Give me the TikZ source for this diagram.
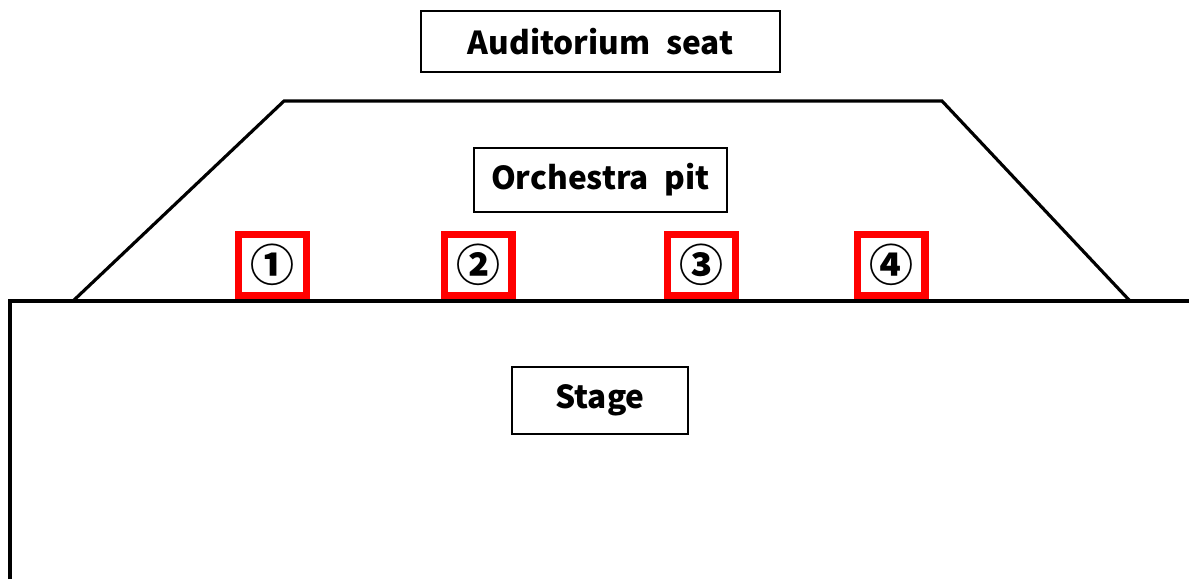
\documentclass[tikz,border=0pt]{standalone}
\usepackage{fontspec}
\setmainfont{Noto Sans CJK KR}
\usepackage{tikz}
\usepackage{xcolor}
\definecolor{pitred}{RGB}{255,0,0}

\tikzset{
  labelbox/.style={draw, line width=1.1pt, font=\fontsize{18}{22}\selectfont\bfseries},
  posbox/.style={draw=pitred, line width=4pt, minimum width=1.36cm, minimum height=1.22cm, font=\fontsize{25}{30}\selectfont\bfseries}
}

\begin{document}
\begin{tikzpicture}[x=0.02cm, y=-0.02cm]
  \useasboundingbox (0, 0) rectangle (1189, 579);
  % Auditorium seat
  \node[labelbox, minimum width=7.18cm, minimum height=1.22cm] (seat) at (600.5, 41.5) {Auditorium\enspace seat};

  % Orchestra pit outline
  \draw[line width=1.8pt] (73, 301) -- (284, 101) -- (942, 101) -- (1130, 301);
  \node[labelbox, minimum width=5.06cm, minimum height=1.28cm] (pit) at (600.5, 180) {Orchestra\enspace pit};

  % Positions
  \node[posbox] (P1) at (272.5, 265) {①};
  \node[posbox] (P2) at (478, 265) {②};
  \node[posbox] (P3) at (701.5, 265) {③};
  \node[posbox] (P4) at (891, 265) {④};

  % Stage
  \draw[line width=1.8pt] (10, 579) -- (10, 301) -- (1189, 301);
  \node[labelbox, minimum width=3.52cm, minimum height=1.34cm] (stage) at (600, 400.5) {Stage};
\end{tikzpicture}
\end{document}
